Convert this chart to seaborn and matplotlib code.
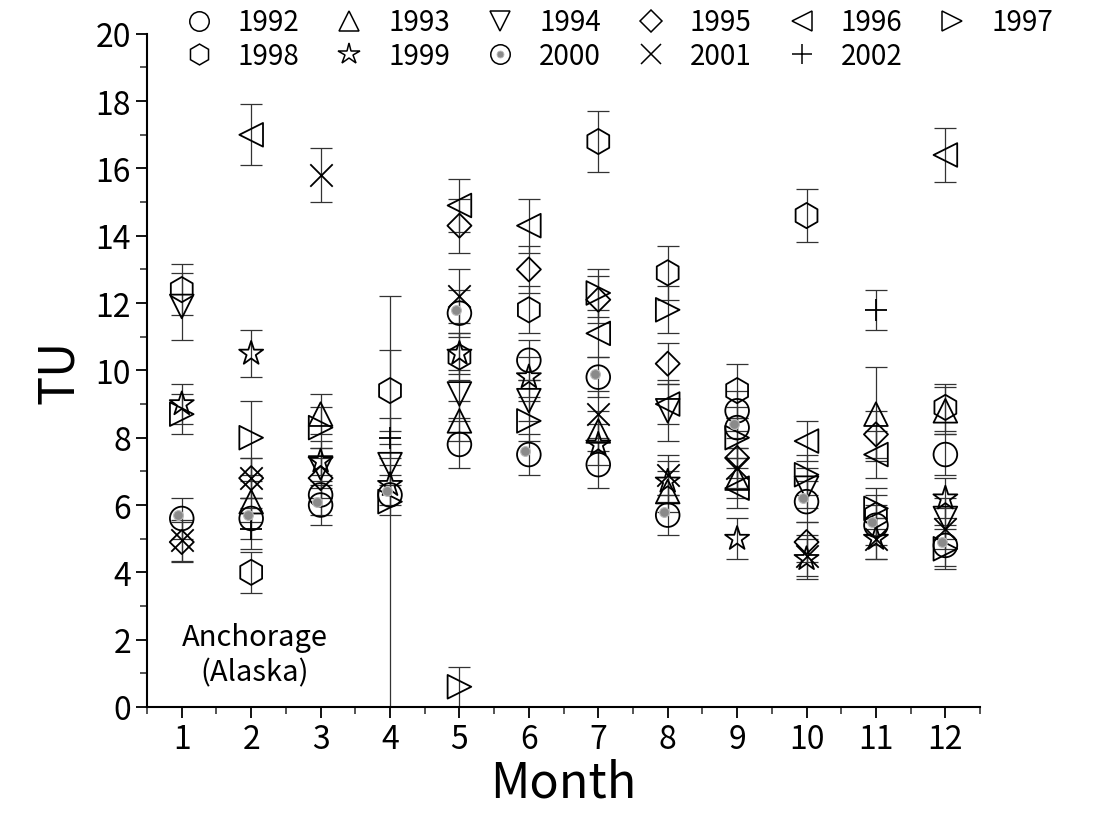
import numpy as np
import pandas as pd
import seaborn as sns
import matplotlib.pyplot as plt
import matplotlib.transforms as mtransforms
from matplotlib.lines import Line2D

nan = np.nan
months = list(range(1, 13))
years = [1992, 1993, 1994, 1995, 1996, 1997, 1998, 1999, 2000, 2001, 2002]

# tritium (TU) per month, one list per year
tu_1992 = [nan, nan, 6.3, nan, 7.8, 10.3, 7.2, nan, 8.8, nan, nan, 7.5]
tu_1993 = [nan, 6.1, 8.7, nan, 8.5, nan, 8.2, 6.4, 6.8, nan, 8.7, 8.8]
tu_1994 = [11.9, nan, 7.1, 7.2, 9.3, 9.1, nan, 8.8, nan, 6.5, nan, 5.6]
tu_1995 = [4.9, 6.8, 6.8, nan, 14.3, 13.0, 12.1, 10.2, 7.4, 4.9, 8.1, nan]
tu_1996 = [nan, 17.0, nan, nan, 14.9, 14.3, 11.1, 9.0, 6.5, 7.9, 7.5, 16.4]
tu_1997 = [8.7, 8.0, 8.3, 6.1, 0.6, 8.5, 12.3, 11.8, 8.0, 6.9, 5.9, 4.7]
tu_1998 = [12.4, 4.0, nan, 9.4, 10.4, 11.8, 16.8, 12.9, 9.4, 14.6, 5.7, 8.9]
tu_1999 = [9.0, 10.5, 7.3, 6.6, 10.5, 9.8, 7.8, 6.7, 5.0, 4.4, 5.0, 6.2]
tu_2000 = [5.6, 5.6, 6.0, 6.3, 11.7, 7.5, 9.8, 5.7, 8.3, 6.1, 5.4, 4.8]
tu_2001 = [4.95, 6.8, 15.8, nan, 12.2, nan, 8.7, 6.9, 7.1, 4.5, 5.0, 5.3]
tu_2002 = [nan, 5.3, nan, 8.0, nan, nan, nan, nan, nan, nan, 11.8, nan]

# one-sigma errors, same layout
err_1992 = [nan, nan, 0.6, nan, 0.7, 0.6, 0.7, nan, 0.6, nan, nan, 0.6]
err_1993 = [nan, 0.6, 0.6, nan, 0.6, nan, 0.6, 0.6, 0.6, nan, 1.4, 0.7]
err_1994 = [1.0, nan, 0.6, 0.6, 0.7, 0.6, nan, 0.9, nan, 0.6, nan, 0.6]
err_1995 = [0.6, 0.6, 0.6, nan, 0.8, 0.7, 0.7, 0.6, 0.6, 0.6, 0.7, nan]
err_1996 = [nan, 0.9, nan, nan, 0.8, 0.8, 0.7, 0.6, 0.6, 0.6, 0.7, 0.8]
err_1997 = [0.6, 1.1, 0.6, 6.1, 0.6, 0.6, 0.7, 0.7, 0.6, 0.6, 0.6, 0.6]
err_1998 = [0.75, 0.6, nan, 1.2, 0.7, 0.7, 0.9, 0.8, 0.8, 0.8, 0.6, 0.7]
err_1999 = [0.6, 0.7, 0.6, 0.6, 0.6, 0.6, 0.6, 0.6, 0.6, 0.6, 0.6, 0.6]
err_2000 = [0.6, 0.6, 0.6, 0.6, 0.7, 0.6, 0.6, 0.6, 0.6, 0.6, 0.6, 0.6]
err_2001 = [0.6, 0.6, 0.8, nan, 0.8, nan, 0.7, 0.6, 0.6, 0.6, 0.6, 0.6]
err_2002 = [nan, 0.6, nan, 0.6, nan, nan, nan, nan, nan, nan, 0.6, nan]

tu = [tu_1992, tu_1993, tu_1994, tu_1995, tu_1996, tu_1997, tu_1998,
      tu_1999, tu_2000, tu_2001, tu_2002]
err = [err_1992, err_1993, err_1994, err_1995, err_1996, err_1997, err_1998,
       err_1999, err_2000, err_2001, err_2002]
markers = ["o", "^", "v", "D", "<", ">", "h", "*", "o", "x", "+"]

rows = []
for yr, vals, es in zip(years, tu, err):
    for m, v, e in zip(months, vals, es):
        if not np.isnan(v):
            rows.append({"year": yr, "month": m, "TU": v, "err": e})
df = pd.DataFrame(rows)

sns.set_theme(style="ticks")
plt.rcParams["font.family"] = ["Noto Sans CJK JP", "DejaVu Sans"]
plt.rcParams["text.color"] = "black"
plt.rcParams["axes.labelcolor"] = "black"

fig = plt.figure(figsize=(10.99, 8.29), dpi=100)
ax = fig.add_axes([0.1338, 0.146, 0.758, 0.812])

for yr, mk in zip(years, markers):
    sub = df[df["year"] == yr]
    ax.errorbar(sub["month"], sub["TU"], yerr=sub["err"], fmt="none",
                ecolor="#333333", elinewidth=0.9, capsize=8, capthick=0.9, zorder=2)
    filled = mk in ("x", "+")
    size = {"D": 150, "*": 330, "h": 330, "x": 260, "+": 260}.get(mk, 290)
    sns.scatterplot(data=sub, x="month", y="TU", marker=mk, s=size,
                    facecolor="black" if filled else "none",
                    edgecolor="black", linewidth=1.3, ax=ax, legend=False,
                    zorder=3)
    if yr == 2000:
        # grey dot inside the 2000 circles, a bit up and left
        shift = mtransforms.offset_copy(ax.transData, fig=fig, x=-2.5, y=2.5, units="points")
        ax.scatter(sub["month"], sub["TU"], s=50, color="#8a8a8a",
                   edgecolor="#bbbbbb", linewidth=0.8, transform=shift, zorder=4)

ax.set_xlim(0.5, 12.25)
ax.set_ylim(0, 20)
ax.set_xticks(months)
ax.set_xticks(np.arange(0.5, 12.6, 1.0), minor=True)
ax.set_yticks(np.arange(0, 21, 2))
ax.set_yticks(np.arange(1, 20, 2), minor=True)
ax.tick_params(axis="both", which="major", labelsize=23, length=8, width=1.3,
               colors="black", direction="out")
ax.tick_params(axis="both", which="minor", length=5, width=1.1, direction="out")
for s in ["top", "right"]:
    ax.spines[s].set_visible(False)
for s in ["left", "bottom"]:
    ax.spines[s].set_linewidth(1.5)
    ax.spines[s].set_color("black")

ax.set_xlabel("Month", fontsize=35, labelpad=2)
ax.set_ylabel("TU", fontsize=35, labelpad=8)

ax.text(2.05, 1.55, "Anchorage\n(Alaska)", fontsize=21, ha="center",
        va="center", linespacing=1.2)

handles = []
for yr, mk in zip(years, markers):
    ms = {"D": 11, "*": 16, "h": 15, "x": 14, "+": 14}.get(mk, 14)
    h = Line2D([], [], ls="none", marker=mk, ms=ms, mfc="none",
               mec="black", mew=1.1, color="black")
    if yr == 2000:
        dot = Line2D([], [], ls="none", marker="o", ms=5, mfc="#8a8a8a",
                     mec="#bbbbbb", mew=0.6)
        h = (h, dot)
    handles.append(h)
labels = [str(y) for y in years]
# legend fills column by column, so interleave to get rows of six
order = [0, 6, 1, 7, 2, 8, 3, 9, 4, 10, 5]
fig.legend([handles[i] for i in order], [labels[i] for i in order], ncol=6,
           loc="upper left", bbox_to_anchor=(0.143, 1.02), frameon=False,
           fontsize=20, handletextpad=0.8, columnspacing=1.2,
           labelspacing=0.12, handlelength=1.2)

fig.savefig("out.png", dpi=100)
